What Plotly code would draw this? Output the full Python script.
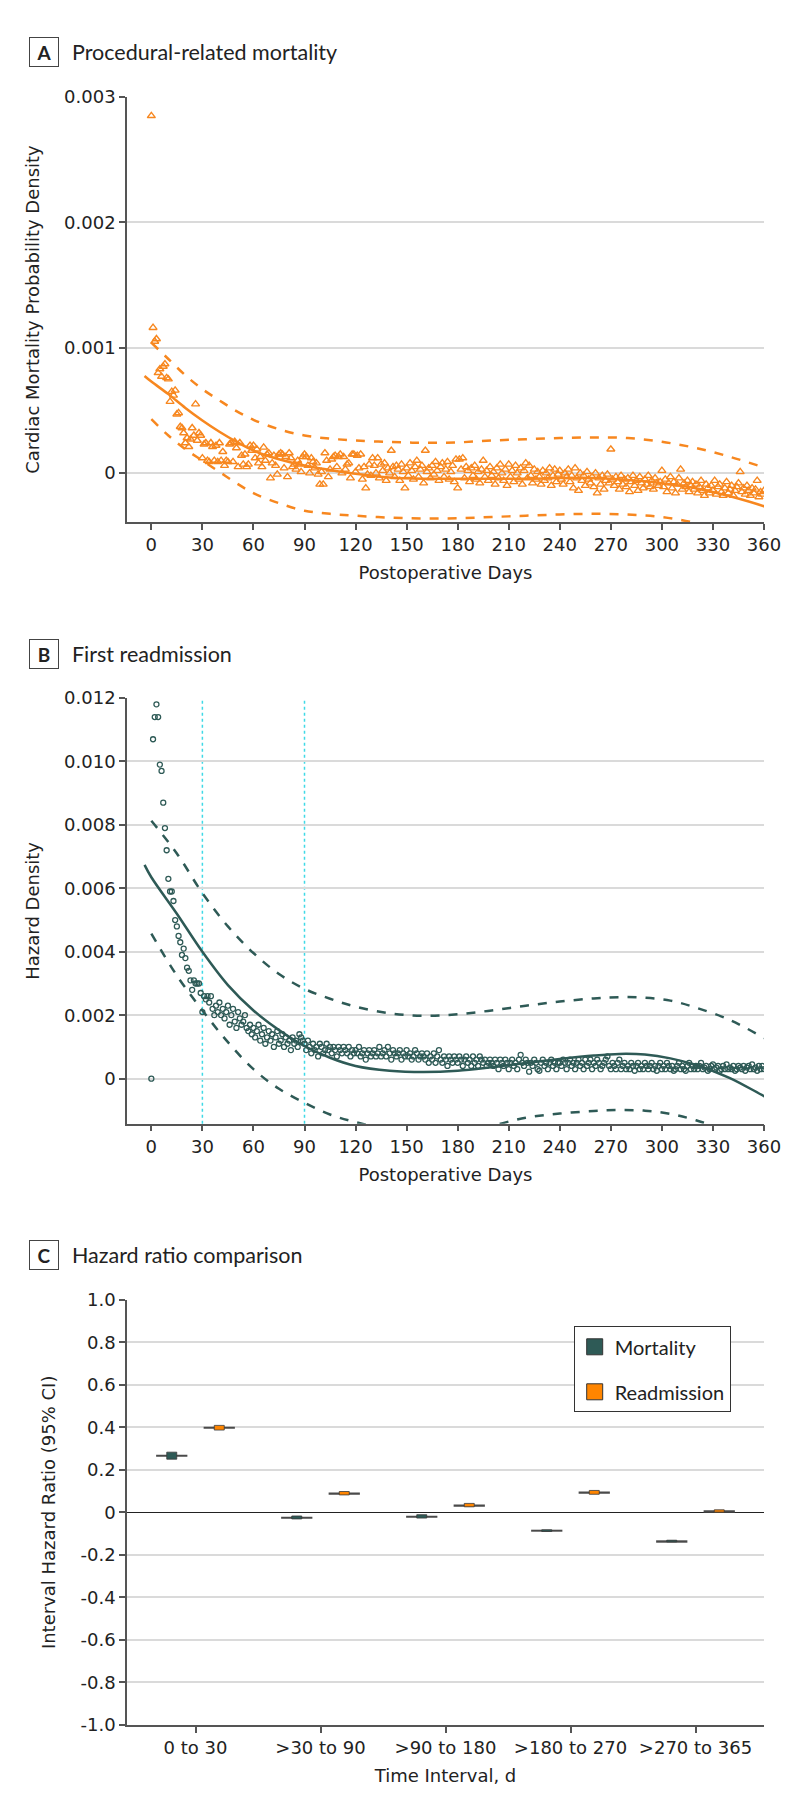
import plotly.graph_objects as go

# ---------------- data ----------------
days = list(range(0, 361))

# Panel A: cardiac mortality probability density (units of 1e-4)
mortality_density_e4 = [
    28.5, 11.6, 10.5, 10.7, 8.0, 8.3, 7.7, 8.5, 8.7, 7.6,
    7.5, 5.7, 6.5, 6.2, 6.6, 4.7, 4.8, 3.7, 3.6, 3.2,
    2.4, 2.8, 2.1, 2.7, 3.6, 3.0, 5.5, 2.6, 3.2, 3.0,
    1.2, 2.3, 2.4, 1.0, 0.9, 2.4, 2.1, 1.0, 2.2, 0.9,
    2.4, 1.0, 1.7, 0.6, 1.0, 0.9, 2.3, 2.4, 0.9, 2.5,
    2.0, 0.5, 2.4, 1.4, 0.7, 1.5, 0.5, 0.7, 2.2, 1.8,
    2.2, 1.2, 1.9, 0.8, 1.3, 0.5, 2.05, 1.0, 1.5, 1.6,
    -0.4, 0.8, 1.4, 0.6, -0.1, 1.5, 1.6, 1.5, 0.4, 1.3,
    -0.3, 1.6, 1.2, 0.5, 0.7, 0.3, 1.0, 0.7, 0.1, 1.3,
    1.5, 1.3, 0.6, 0.0, 1.2, 0.9, 0.4, 0.8, -0.1, -0.9,
    0.1, -0.9, 1.6, 1.0, -0.3, 0.3, 1.1, 1.3, 1.4, 0.5,
    1.3, 1.5, 0.0, 1.3, 0.3, 0.7, 0.8, -0.4, 1.5, 1.5,
    0.1, 1.4, 0.4, 1.5, -0.5, 0.5, -1.2, -0.1, 0.7, -0.2,
    1.2, 0.6, 0.0, 1.2, -0.4, 0.7, 0.2, 0.8, -0.6, 0.4,
    0.0, 1.8, 0.5, -0.3, 0.6, 0.3, -0.6, 0.7, 0.1, -1.2,
    0.4, -0.2, 0.8, 0.2, -0.5, 0.5, 1.0, -0.3, 0.3, 0.6,
    -0.8, 1.8, 0.1, 0.4, -0.4, 0.6, -0.1, 0.9, 0.2, -0.6,
    0.5, 0.8, -0.3, 0.3, 0.9, -0.5, 0.1, 0.6, -0.7, 1.1,
    -1.2, 1.1, 0.3, 1.2, -0.4, 0.5, 0.2, -0.7, 0.4, -0.2,
    0.6, -0.5, 0.1, -0.8, 0.3, 1.0, -0.3, 0.2, -0.6, 0.5,
    -0.2, 0.1, -0.9, 0.4, -0.4, 0.7, 0.0, -0.6, 0.3, -1.0,
    0.7, -0.3, 0.2, -0.7, 0.6, 0.0, -0.5, 0.4, -0.9, 0.2,
    0.8, -0.4, 0.6, -0.2, -0.8, 0.3, -0.5, 0.1, -0.3, -0.9,
    0.2, -0.6, 0.0, -0.4, 0.4, -1.0, -0.2, 0.3, -0.7, -0.1,
    0.2, -0.5, -0.9, 0.0, -0.3, 0.3, -0.7, -0.2, -1.2, 0.4,
    -0.4, -1.4, 0.0, -0.6, -0.2, -1.0, 0.1, -0.5, -0.8, -0.3,
    -1.1, 0.0, -1.6, -0.4, -0.9, -0.2, -1.3, -0.6, -0.1, -0.8,
    1.9, -0.5, -1.0, -0.3, -0.7, -1.3, -0.2, -0.9, -0.5, -1.1,
    -0.4, -1.5, -0.7, -0.2, -1.0, -0.6, -1.4, -0.3, -0.8, -1.2,
    -0.5, -0.9, -0.2, -1.1, -0.6, -1.3, -0.4, -0.8, -1.0, -0.7,
    0.2, -1.1, -0.5, -1.5, -0.8, -0.3, -1.2, -0.7, -1.6, -0.9,
    -0.4, 0.3, -1.3, -0.8, -1.1, -0.6, -1.5, -1.0, -0.7, -1.3,
    -0.9, -1.6, -1.1, -0.6, -1.4, -1.8, -0.9, -1.2, -1.6, -1.0,
    -1.4, -0.6, -1.7, -1.1, -0.9, -1.5, -1.8, -1.2, -0.7, -1.6,
    -1.3, -1.0, -1.8, -1.4, -1.1, -0.8, 0.1, -1.5, -1.2, -1.7,
    -1.0, -1.4, -1.8, -1.2, -1.6, -1.3, -0.6, -1.9, -1.5, -1.7, -1.4,
]

mort_fit_days = [-4, 0, 10, 20, 30, 40, 50, 60, 75, 90, 105, 120, 140, 160, 180,
                 200, 220, 240, 260, 280, 300, 320, 340, 360, 364]
mort_fit_e4 = [7.75, 7.3, 6.3, 5.2, 4.2, 3.3, 2.5, 1.8, 1.1, 0.6, 0.25, -0.05, -0.35, -0.45, -0.45,
               -0.45, -0.45, -0.4, -0.4, -0.55, -0.8, -1.2, -1.85, -2.65, -2.85]
mort_ci_days = [0, 10, 20, 30, 40, 50, 60, 75, 90, 105, 120, 140, 160, 180,
                200, 220, 240, 260, 280, 300, 320, 340, 360]
mort_upper_e4 = [10.4, 9.1, 7.8, 6.7, 5.8, 4.95, 4.25, 3.5, 3.0, 2.75, 2.6, 2.48, 2.42, 2.45,
                 2.6, 2.7, 2.8, 2.85, 2.8, 2.5, 2.0, 1.3, 0.45]
mort_lower_e4 = [4.3, 3.0, 1.9, 1.0, 0.1, -0.8, -1.6, -2.4, -3.0, -3.25, -3.4, -3.55, -3.62, -3.6,
                 -3.5, -3.4, -3.3, -3.25, -3.3, -3.5, -4.0, -4.9, -6.2]

# Panel B: first readmission hazard density (units of 1e-4)
readmission_hazard_e4 = [
    0.0, 107, 114, 118, 114, 99, 97, 87, 79, 72,
    63, 59, 59, 56, 50, 48, 45, 43, 39, 41,
    38, 35, 34, 31, 28, 31, 30, 30, 30, 27,
    21, 26, 25, 26, 24, 26, 22, 20, 23, 21,
    24, 20, 22, 19, 21, 23, 17, 20, 22, 18,
    16, 21, 19, 17, 18, 20, 16, 15, 17, 14,
    16, 13, 15, 17, 12, 14, 16, 11, 13, 15,
    12, 14, 10, 13, 15, 11, 12, 14, 10, 13,
    11, 12, 9, 13, 11, 12, 10, 14, 13, 12,
    11, 9, 12, 10, 8, 11, 9, 10, 7, 11,
    10, 8, 9, 11, 9, 10, 8, 10, 9, 7,
    10, 9, 8, 10, 9, 8, 10, 7, 9, 8,
    9, 8, 10, 7, 8, 9, 6, 8, 9, 7,
    8, 9, 7, 8, 10, 7, 8, 9, 7, 10,
    8, 6, 9, 8, 7, 8, 9, 6, 8, 7,
    9, 7, 8, 6, 7, 9, 8, 6, 7, 8,
    7, 6, 8, 5, 7, 6, 8, 5, 7, 9,
    6, 5, 7, 6, 4, 7, 6, 5, 7, 6,
    5, 7, 6, 4, 6, 7, 5, 6, 4, 7,
    5, 6, 4, 7, 6, 5, 6, 4, 5, 6,
    5, 4, 6, 5, 3, 6, 5, 4, 6, 5,
    3, 5, 6, 4, 5, 3, 6, 7.5, 5, 4,
    6, 5, 2.2, 5, 4, 6, 5, 3, 2.5, 5,
    6, 4, 5, 3, 5, 6, 4, 5, 3, 5,
    5, 4, 6, 5, 3, 5, 6, 4, 5, 3,
    5, 6, 4, 5, 3, 6, 4, 5, 6, 3,
    5, 4, 6, 5, 3, 4, 5, 6, 7, 4,
    3, 5, 4, 3, 5, 6, 3, 4, 5, 3,
    4, 3, 5, 4, 2.5, 4, 5, 3, 4, 3,
    5, 4, 3, 4, 5, 3, 4, 2.5, 4, 5,
    3, 4, 3, 5, 4, 3, 4, 2.5, 3, 4,
    5, 3, 4, 3, 2.5, 4, 5, 3, 4, 3,
    4, 3, 4, 5, 3, 3.5, 4, 2.5, 3, 4,
    4.5, 3, 3.5, 4, 2.5, 3, 4, 3, 4.5, 3,
    3.5, 3, 4, 2.5, 3, 4, 3.5, 3, 4, 2.5,
    3.5, 4, 3, 4.5, 3, 3.5, 2.5, 4, 3, 4, 3,
]

readm_fit_days = [-4, 0, 15, 30, 45, 60, 75, 90, 105, 120, 140, 160, 180, 200, 220,
                  240, 260, 275, 290, 305, 320, 340, 360, 364]
readm_fit_e4 = [67.4, 63.5, 52, 40, 29.5, 21.5, 15.3, 10.3, 6.6, 4.0, 2.5, 2.1, 2.5, 3.6, 4.9,
                6.2, 7.3, 7.8, 7.6, 6.4, 4.3, 0.2, -5.5, -6.5]
readm_ci_days = [0, 15, 30, 45, 60, 75, 90, 105, 120, 140, 160, 180, 200, 220, 240,
                 260, 275, 290, 305, 320, 340, 360]
readm_upper_e4 = [81.3, 71, 58.5, 48, 39.6, 33, 28.3, 25.2, 22.7, 20.6, 19.8, 20.3, 21.5, 23, 24.3,
                  25.3, 25.7, 25.5, 24.6, 22.4, 18.5, 12.8]
readm_lower_e4 = [45.7, 32.5, 21.5, 11.5, 3.0, -3.2, -7.6, -11.3, -13.7, -16, -17, -16.5, -14.8, -12.3, -11,
                  -10.2, -9.9, -10.1, -11.1, -13.1, -17, -22]
readm_cutoff_days = [30, 90]

# Panel C: interval hazard ratios
intervals = ["0 to 30", ">30 to 90", ">90 to 180", ">180 to 270", ">270 to 365"]
mort_hr = [0.266, -0.024, -0.019, -0.086, -0.135]
mort_lo = [0.250, -0.031, -0.027, -0.090, -0.139]
mort_hi = [0.283, -0.017, -0.011, -0.082, -0.131]
readm_hr = [0.398, 0.090, 0.034, 0.094, 0.006]
readm_lo = [0.387, 0.082, 0.026, 0.085, 0.001]
readm_hi = [0.409, 0.098, 0.042, 0.103, 0.012]

day_ticks = list(range(0, 361, 30))
a_ticks = [0, 0.001, 0.002, 0.003]
a_ticktext = ["0", "0.001", "0.002", "0.003"]
b_ticks = [0, 0.002, 0.004, 0.006, 0.008, 0.010, 0.012]
b_ticktext = ["0", "0.002", "0.004", "0.006", "0.008", "0.010", "0.012"]
c_ticks = [1.0, 0.8, 0.6, 0.4, 0.2, 0, -0.2, -0.4, -0.6, -0.8, -1.0]
c_ticktext = ["1.0", "0.8", "0.6", "0.4", "0.2", "0", "-0.2", "-0.4", "-0.6", "-0.8", "-1.0"]

# ---------------- style ----------------
ORANGE = "#F7871F"
ORANGE_C = "#FF8500"
TEAL = "#2E5A56"
CYAN = "#3FD9E6"
GRID = "#DADADA"
AX = "#555555"
TXT = "#222222"
AXFONT = "DejaVu Sans"
TFONT = "Lato"

W, H = 794, 1815
ML, MR, MT, MB = 119, 38, 89, 98
PW, PH = W - ML - MR, H - MT - MB


def px_x(px):
    return (px - ML) / PW


def px_y(py):
    return (H - MB - py) / PH


def e4(vals):
    return [v * 1e-4 for v in vals]


fig = go.Figure()

# Panel A
fig.add_trace(go.Scatter(x=days, y=e4(mortality_density_e4), mode="markers",
                         marker=dict(symbol="triangle-up-open", size=7, color=ORANGE,
                                     line=dict(width=1.4, color=ORANGE)),
                         xaxis="x", yaxis="y", showlegend=False))
fig.add_trace(go.Scatter(x=mort_fit_days, y=e4(mort_fit_e4), mode="lines",
                         line=dict(color=ORANGE, width=2.5, shape="spline"),
                         xaxis="x", yaxis="y", showlegend=False))
for arr in (mort_upper_e4, mort_lower_e4):
    fig.add_trace(go.Scatter(x=mort_ci_days, y=e4(arr), mode="lines",
                             line=dict(color=ORANGE, width=2.5, dash="dash", shape="spline"),
                             xaxis="x", yaxis="y", showlegend=False))

# Panel B
fig.add_trace(go.Scatter(x=days, y=e4(readmission_hazard_e4), mode="markers",
                         marker=dict(symbol="circle-open", size=5, color=TEAL,
                                     line=dict(width=1.3, color=TEAL)),
                         xaxis="x2", yaxis="y2", showlegend=False))
fig.add_trace(go.Scatter(x=readm_fit_days, y=e4(readm_fit_e4), mode="lines",
                         line=dict(color=TEAL, width=2.5, shape="spline"),
                         xaxis="x2", yaxis="y2", showlegend=False))
for arr in (readm_upper_e4, readm_lower_e4):
    fig.add_trace(go.Scatter(x=readm_ci_days, y=e4(arr), mode="lines",
                             line=dict(color=TEAL, width=2.5, dash="dash", shape="spline"),
                             xaxis="x2", yaxis="y2", showlegend=False))
for d in readm_cutoff_days:
    fig.add_vline(x=d, line=dict(color=CYAN, width=1.5, dash="dot"), xref="x2", yref="y2",
                  layer="below")

# Panel C : estimate lines (thin bars) then CI boxes on top
LINE_H = 0.007
for hr, lo, hi, col, off, name in (
        (mort_hr, mort_lo, mort_hi, TEAL, -0.19, "Mortality"),
        (readm_hr, readm_lo, readm_hi, ORANGE_C, 0.19, "Readmission")):
    fig.add_trace(go.Bar(x=intervals, y=[LINE_H] * len(hr), base=[h - LINE_H / 2 for h in hr],
                         width=0.25, offset=off - 0.125, marker=dict(color="#4a4a4a", line=dict(width=0)),
                         xaxis="x3", yaxis="y3", showlegend=False))
    fig.add_trace(go.Bar(x=intervals, y=[b - a for a, b in zip(lo, hi)], base=lo,
                         width=0.08, offset=off - 0.04,
                         marker=dict(color=col, line=dict(width=0.8, color="#3a3a3a")),
                         xaxis="x3", yaxis="y3", showlegend=False))
    fig.add_trace(go.Scatter(x=[None], y=[None], mode="markers", name=name,
                             marker=dict(symbol="square", size=16, color=col,
                                         line=dict(width=1, color="#333333")),
                             xaxis="x3", yaxis="y3", showlegend=True, legendgroup=name))

tickfont = dict(family=AXFONT, size=18, color=TXT)
titlefont = dict(family=AXFONT, size=18, color=TXT)

common_x = dict(showgrid=False, zeroline=False, showline=True, linecolor=AX, linewidth=1.5,
                ticks="outside", ticklen=6, tickwidth=1.5, tickcolor=AX, tickfont=tickfont,
                automargin=False)
common_y = dict(showgrid=True, gridcolor=GRID, gridwidth=1.5, zeroline=False, showline=True,
                linecolor=AX, linewidth=1.5, ticks="outside", ticklen=6, tickwidth=1.5,
                tickcolor=AX, tickfont=tickfont, automargin=False)

YSO = 20
XSO = 12
fig.update_layout(
    width=W, height=H, paper_bgcolor="white", plot_bgcolor="white",
    margin=dict(l=ML, r=MR, t=MT, b=MB), barmode="overlay",
    xaxis=dict(common_x, domain=[0, 1], anchor="y", range=[-14.3, 360], tickvals=day_ticks,
               title=dict(text="Postoperative Days", font=titlefont, standoff=XSO)),
    yaxis=dict(common_y, domain=[px_y(514), px_y(89)], anchor="x", range=[-0.00039, 0.003],
               tickvals=a_ticks, ticktext=a_ticktext,
               title=dict(text="Cardiac Mortality Probability Density", font=titlefont, standoff=YSO)),
    xaxis2=dict(common_x, domain=[0, 1], anchor="y2", range=[-14.3, 360], tickvals=day_ticks,
                title=dict(text="Postoperative Days", font=titlefont, standoff=XSO)),
    yaxis2=dict(common_y, domain=[px_y(1115.7), px_y(690)], anchor="x2", range=[-0.00142, 0.012],
                tickvals=b_ticks, ticktext=b_ticktext,
                title=dict(text="Hazard Density", font=titlefont, standoff=YSO)),
    xaxis3=dict(common_x, domain=[0, 1], anchor="y3", type="category", range=[-0.548, 4.548],
                title=dict(text="Time Interval, d", font=titlefont, standoff=XSO)),
    yaxis3=dict(common_y, domain=[0, px_y(1291.7)], anchor="x3", range=[-1.0, 1.0],
                tickvals=c_ticks, ticktext=c_ticktext, zeroline=True, zerolinecolor="#222222",
                zerolinewidth=1.3,
                title=dict(text="Interval Hazard Ratio (95% CI)", font=titlefont, standoff=YSO)),
    legend=dict(x=px_x(565.7), y=px_y(1318.3), xanchor="left", yanchor="top",
                bordercolor="#333333", borderwidth=1, bgcolor="white",
                font=dict(family=TFONT, size=20, color=TXT), itemsizing="trace",
                tracegroupgap=16),
)

panel_titles = [("A", "Procedural-related mortality", 29.3),
                ("B", "First readmission", 630.7),
                ("C", "Hazard ratio comparison", 1232.3)]
for letter, text, top in panel_titles:
    fig.add_annotation(xref="paper", yref="paper", x=px_x(21), y=px_y(top), xanchor="left",
                       yanchor="top", text="<b>%s</b>" % letter, showarrow=False,
                       width=28, height=28, borderpad=0, borderwidth=1, bordercolor="#444444",
                       font=dict(family=TFONT, size=19, color=TXT))
    fig.add_annotation(xref="paper", yref="paper", x=px_x(62), y=px_y(top + 15), xanchor="left",
                       yanchor="middle", text=text, showarrow=False,
                       font=dict(family=TFONT, size=21.5, color=TXT))

fig.write_html("out.html")
